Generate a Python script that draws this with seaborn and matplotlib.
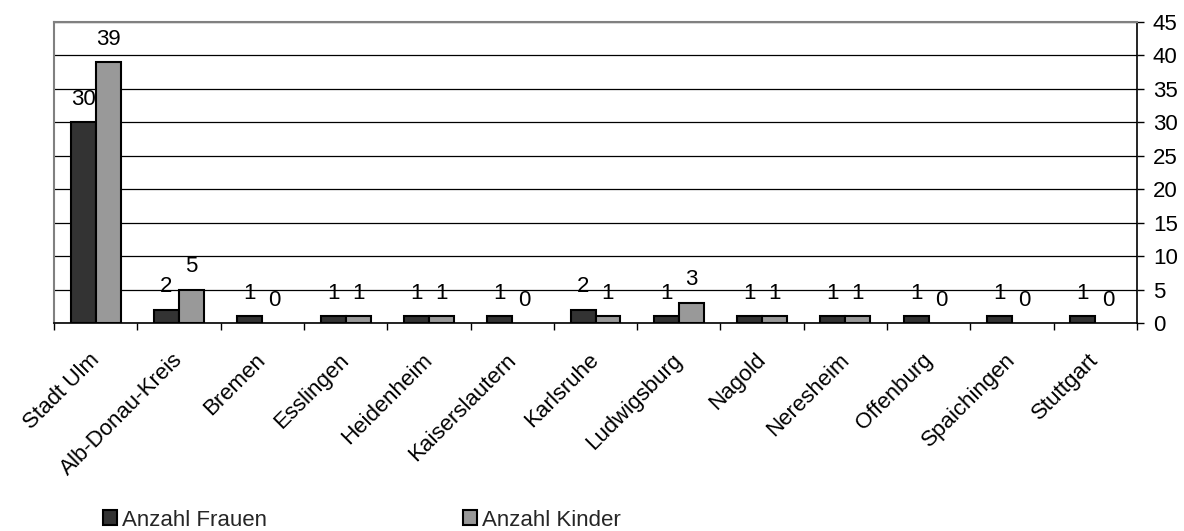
import matplotlib
matplotlib.use("Agg")
import matplotlib.pyplot as plt
import matplotlib.transforms as mtransforms
from matplotlib.patches import Patch
import seaborn as sns
import pandas as pd
import numpy as np

orte = ["Stadt Ulm", "Alb-Donau-Kreis", "Bremen", "Esslingen", "Heidenheim",
        "Kaiserslautern", "Karlsruhe", "Ludwigsburg", "Nagold", "Neresheim",
        "Offenburg", "Spaichingen", "Stuttgart"]
frauen = [30, 2, 1, 1, 1, 1, 2, 1, 1, 1, 1, 1, 1]
kinder = [39, 5, 0, 1, 1, 0, 1, 3, 1, 1, 0, 0, 0]
serien = ["Anzahl Frauen", "Anzahl Kinder"]
farben = ["#333333", "#999999"]
y_ticks = [0, 5, 10, 15, 20, 25, 30, 35, 40, 45]

df = pd.DataFrame({
    "Ort": orte * 2,
    "Anzahl": frauen + kinder,
    "Serie": [serien[0]] * len(orte) + [serien[1]] * len(orte),
})

sns.set_theme(style="white")
plt.rcParams["font.family"] = ["Liberation Sans", "DejaVu Sans"]
FS = 16

fig = plt.figure(figsize=(11.84, 5.31), dpi=100)
ax = fig.add_axes([54/1184, 1-323/531, (1137-54)/1184, (323-22)/531])

sns.barplot(data=df, x="Ort", y="Anzahl", hue="Serie", order=orte,
            hue_order=serien, palette=farben, width=0.6, gap=0,
            edgecolor="black", linewidth=1.5, saturation=1, ax=ax,
            legend=False)

ax.set_xlim(-0.5, len(orte) - 0.5)
ax.set_ylim(0, 45)
ax.set_xlabel("")
ax.set_ylabel("")

# value labels
for cont in ax.containers:
    for p in cont:
        if p.get_height() == 0:
            p.set_linewidth(0)
    ax.bar_label(cont, labels=[f"{int(v.get_height())}" for v in cont],
                 padding=9, fontsize=FS, color="black")

# grid
ax.set_yticks(y_ticks)
ax.yaxis.grid(True, color="black", linewidth=0.9)
ax.set_axisbelow(True)

# right axis
ax.yaxis.tick_right()
ax.tick_params(axis="y", which="major", direction="out", length=5, width=1,
               color="black", labelsize=FS, labelcolor="black", pad=6.5,
               right=True, left=False)

# x ticks at category boundaries
ax.set_xticks(np.arange(len(orte)))
ax.set_xticks(np.arange(len(orte) + 1) - 0.5, minor=True)
ax.tick_params(axis="x", which="major", length=0, pad=19, labelsize=FS,
               labelcolor="black")
ax.tick_params(axis="x", which="minor", bottom=True, direction="out",
               length=5, width=1, color="black")
ax.set_xticklabels(orte, rotation=45, ha="right", va="top",
                   rotation_mode="anchor")
off = mtransforms.ScaledTranslation(-7/100, 0, fig.dpi_scale_trans)
for lab in ax.get_xticklabels():
    lab.set_transform(lab.get_transform() + off)

# spines
for s in ["left", "top"]:
    ax.spines[s].set_color("#808080")
    ax.spines[s].set_linewidth(1.5)
for s in ["right", "bottom"]:
    ax.spines[s].set_color("black")
    ax.spines[s].set_linewidth(1.2)
for s in ax.spines.values():
    s.set_visible(True)

handles = [Patch(facecolor=c, edgecolor="black", linewidth=1.5) for c in farben]
fig.legend(handles, serien, loc="center left",
           bbox_to_anchor=(103/1184, 1-520/531), ncol=2, frameon=False,
           fontsize=FS, handlelength=0.63, handleheight=0.63,
           handletextpad=0.23, columnspacing=8.8, borderpad=0,
           borderaxespad=0)

fig.savefig("out.png", dpi=100)
